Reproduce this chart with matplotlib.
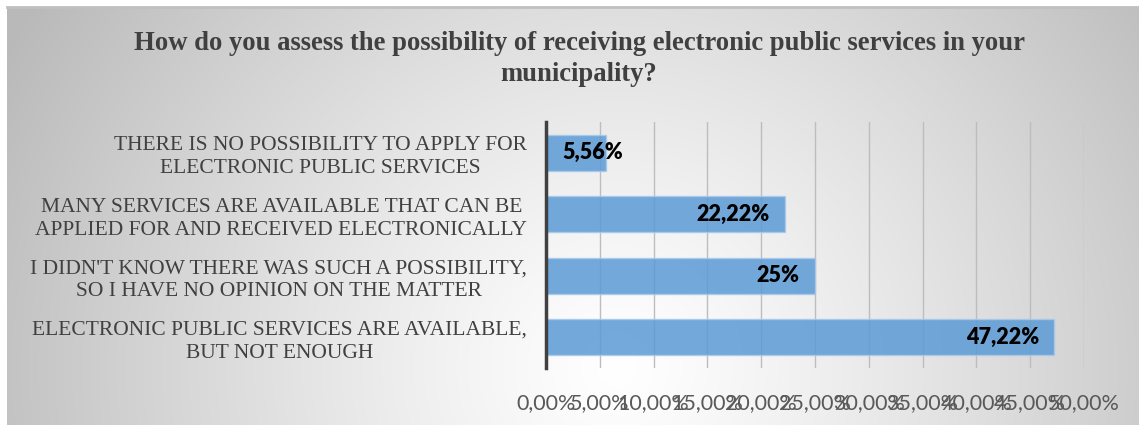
import numpy as np
import matplotlib
matplotlib.use("Agg")
import matplotlib.pyplot as plt
from matplotlib.ticker import FuncFormatter, MultipleLocator

title = "How do you assess the possibility of receiving electronic public services in your\nmunicipality?"
categories = [
    "THERE IS NO POSSIBILITY TO APPLY FOR\nELECTRONIC PUBLIC SERVICES",
    "MANY SERVICES ARE AVAILABLE THAT CAN BE\nAPPLIED FOR AND RECEIVED ELECTRONICALLY",
    "I DIDN'T KNOW THERE WAS SUCH A POSSIBILITY,\nSO I HAVE NO OPINION ON THE MATTER",
    "ELECTRONIC PUBLIC SERVICES ARE AVAILABLE,\nBUT NOT ENOUGH",
]
values = [5.56, 22.22, 25.0, 47.22]
value_labels = ["5,56%", "22,22%", "25%", "47,22%"]

W, H = 1139, 425
fig = plt.figure(figsize=(W / 100, H / 100), dpi=100)
fig.patch.set_facecolor("white")

# background radial gradient
bg = fig.add_axes([7 / W, 0, 1 - 7 / W, 1 - 7 / H], zorder=0)
yy, xx = np.mgrid[0:418, 0:1132]
cx, cy = 610, 360
d = np.sqrt(((xx - cx) / 580.0) ** 2 + ((yy - cy) / 560.0) ** 2)
d = np.clip(d, 0, 1.2)
g = 1.0 - 0.22 * d ** 1.2
img = np.dstack([g, g, g])
bg.imshow(img, aspect="auto", extent=[0, 1, 0, 1], origin="upper")
bg.set_xlim(0, 1)
bg.set_ylim(0, 1)
bg.axis("off")
bg.plot([0, 1], [1, 1], color="#c0c0c0", lw=2, transform=bg.transAxes, clip_on=False)

ax = fig.add_axes([546 / W, (H - 368) / H, (1084 - 546) / W, (368 - 122) / H], zorder=2)
ax.patch.set_alpha(0)
y = np.arange(len(categories))
ax.barh(y, values, height=0.59, color="#5b9bd5", alpha=0.85, edgecolor="#a9c9ec",
        linewidth=1, zorder=3)
ax.set_xlim(0, 50)
ax.set_ylim(len(categories) - 0.5, -0.5)
ax.xaxis.set_major_locator(MultipleLocator(5))
ax.xaxis.set_major_formatter(FuncFormatter(lambda v, p: f"{v:.2f}%".replace(".", ",")))
ax.grid(axis="x", color="#bdbdbd", lw=1, zorder=1)
ax.set_axisbelow(True)
for s in ["top", "right", "bottom"]:
    ax.spines[s].set_visible(False)
ax.spines["left"].set_color("#404040")
ax.spines["left"].set_linewidth(2.5)
ax.spines["left"].set_zorder(4)
ax.tick_params(axis="x", length=0, pad=18, labelsize=15.5, labelcolor="#595959")
ax.tick_params(axis="y", length=0, pad=13.5)
for lab in ax.get_xticklabels():
    lab.set_fontfamily("Lato")
ax.set_yticks(y)
ax.set_yticklabels(categories, fontfamily="Liberation Serif", fontsize=15.5,
                   color="#404040", multialignment="center", linespacing=1.3)

for yi, v, t in zip(y, values, value_labels):
    if v < 10:
        ax.annotate(t, (0, yi), xytext=(12, 0), textcoords="offset points", ha="left",
                    va="center", fontsize=15.5, fontweight="heavy", fontfamily="Lato",
                    color="black", zorder=5)
    else:
        ax.annotate(t, (v, yi), xytext=(-11, 0), textcoords="offset points", ha="right",
                    va="center", fontsize=15.5, fontweight="heavy", fontfamily="Lato",
                    color="black", zorder=5)

fig.text(579 / W, 1 - 59 / H, title, ha="center", va="center", fontsize=19.2,
         fontweight="bold", fontfamily="Liberation Serif", color="#404040",
         linespacing=1.28, zorder=3)

fig.savefig("out.png", dpi=100)
